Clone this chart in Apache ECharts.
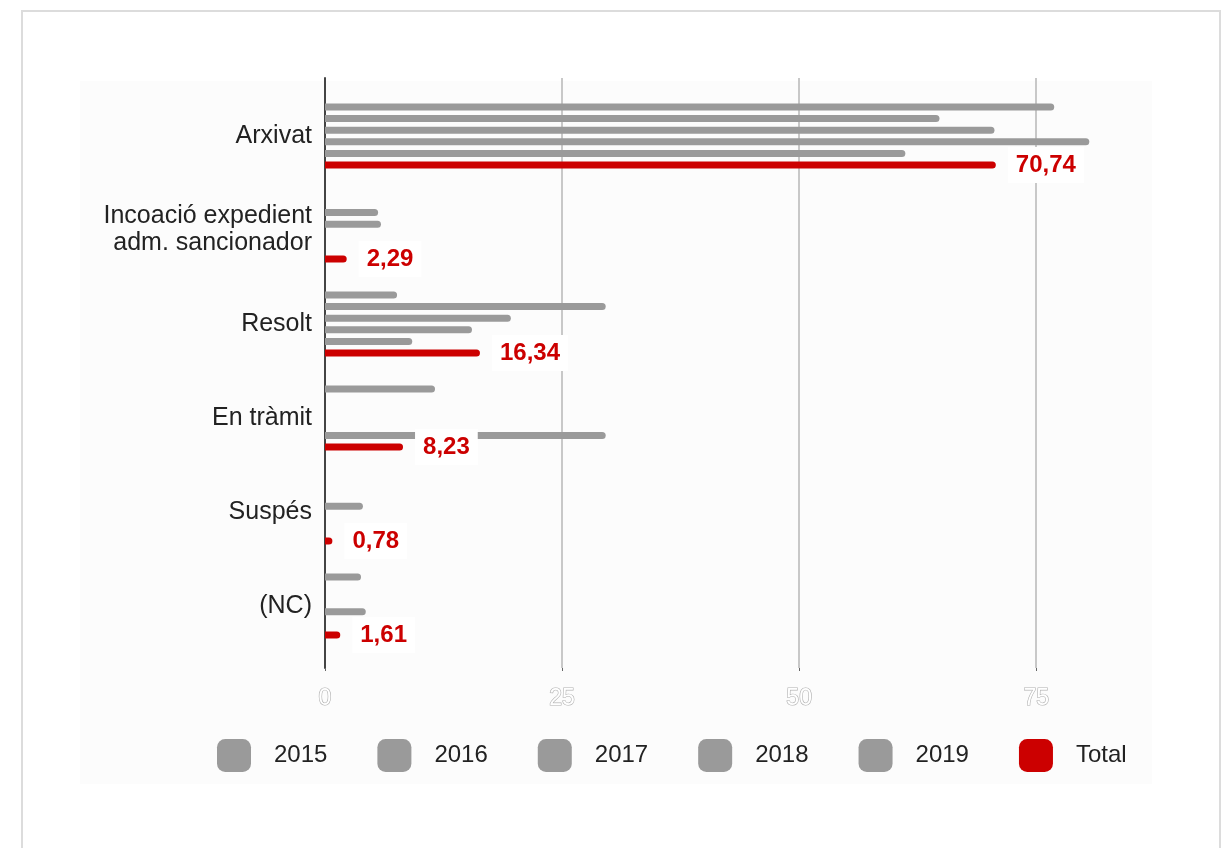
<!DOCTYPE html>
<html>
<head>
<meta charset="utf-8">
<script src="https://cdn.jsdelivr.net/npm/echarts@6/dist/echarts.min.js"></script>
<style>
  html, body { margin: 0; padding: 0; background: #fff; }
  #frame { position: absolute; left: 21px; top: 10px; width: 1196px; height: 900px; border: 2px solid #dcdcdc; }
  #panel { position: absolute; left: 80px; top: 81px; width: 1072px; height: 703px; background: #fcfcfc; }
  #chart { position: absolute; left: 0; top: 0; width: 1223px; height: 848px; }
</style>
</head>
<body>
<div id="frame"></div>
<div id="panel"></div>
<div id="chart"></div>
<script>
const categories = ['Arxivat', 'Incoació expedient\nadm. sancionador', 'Resolt', 'En tràmit', 'Suspés', '(NC)']
const years = ['2015', '2016', '2017', '2018', '2019']
const v2015 = [76.9, null, 7.6, 11.6, null, 3.8]
const v2016 = [64.8, 5.6, 29.6, null, null, null]
const v2017 = [70.6, 5.9, 19.6, null, 4.0, null]
const v2018 = [80.6, null, 15.5, null, null, 4.3]
const v2019 = [61.2, null, 9.2, 29.6, null, null]
const total = [70.74, 2.29, 16.34, 8.23, 0.78, 1.61]
const xTicks = [0, 25, 50, 75]

const chart = echarts.init(document.getElementById('chart'))

const font = 'Liberation Sans, Arial, sans-serif'
const gray = '#9a9a9a'
const red = '#cc0000'

const yearSeries = [v2015, v2016, v2017, v2018, v2019].map((data, i) => ({
  name: years[i],
  type: 'bar',
  xAxisIndex: 1,
  yAxisIndex: 1,
  data: data,
  barWidth: 7,
  barGap: '66%',
  itemStyle: { color: gray, borderRadius: [0, 4, 4, 0] }
}))

const option = {
  backgroundColor: 'transparent',
  animation: false,
  textStyle: { fontFamily: font },
  legend: {
    data: years.concat(['Total']),
    left: 212,
    top: 734,
    icon: 'roundRect',
    itemWidth: 34,
    itemHeight: 33,
    itemGap: 50,
    textStyle: { fontSize: 24, color: '#222', fontFamily: font, padding: [0, 0, 0, 18] }
  },
  grid: [
    { left: 325, top: 78, width: 825, height: 590 },
    { left: 325, top: 89, width: 825, height: 564 }
  ],
  xAxis: [
    {
      gridIndex: 0,
      type: 'value',
      min: 0,
      max: 87,
      interval: 25,
      axisLine: { show: false },
      axisTick: { show: true, length: 3, lineStyle: { color: '#666' } },
      splitLine: { show: true, showMaxLine: false, lineStyle: { color: '#c8c8c8', width: 2 } },
      axisLabel: {
        showMaxLabel: false,
        margin: 19,
        fontSize: 23,
        color: '#fff',
        textBorderColor: '#b0b0b0',
        textBorderWidth: 1.2,
        fontFamily: font,
        formatter: v => (xTicks.indexOf(v) >= 0 ? String(v) : '')
      }
    },
    {
      gridIndex: 1,
      type: 'value',
      min: 0,
      max: 87,
      show: false
    }
  ],
  yAxis: [
    {
      gridIndex: 0,
      type: 'value',
      min: 0,
      max: 1,
      axisLine: { show: true, lineStyle: { color: '#444', width: 2 } },
      axisTick: { show: false },
      axisLabel: { show: false },
      splitLine: { show: false }
    },
    {
      gridIndex: 1,
      type: 'category',
      data: categories,
      inverse: true,
      axisLine: { show: false },
      axisTick: { show: false },
      axisLabel: { margin: 13, fontSize: 25, lineHeight: 27, color: '#222', fontFamily: font, align: 'right' }
    }
  ],
  series: yearSeries.concat([{
    name: 'Total',
    type: 'bar',
    xAxisIndex: 1,
    yAxisIndex: 1,
    data: total,
    barWidth: 7,
    barGap: '66%',
    itemStyle: { color: red, borderRadius: [0, 4, 4, 0] },
    label: {
      show: true,
      position: 'right',
      distance: 12,
      color: red,
      fontSize: 24,
      fontWeight: 'bold',
      fontFamily: font,
      backgroundColor: '#fff',
      padding: [6, 8],
      formatter: p => p.value.toFixed(2).replace('.', ',')
    }
  }])
}

chart.setOption(option)

window.addEventListener('resize', () => {
  chart.resize()
})
</script>
</body>
</html>
